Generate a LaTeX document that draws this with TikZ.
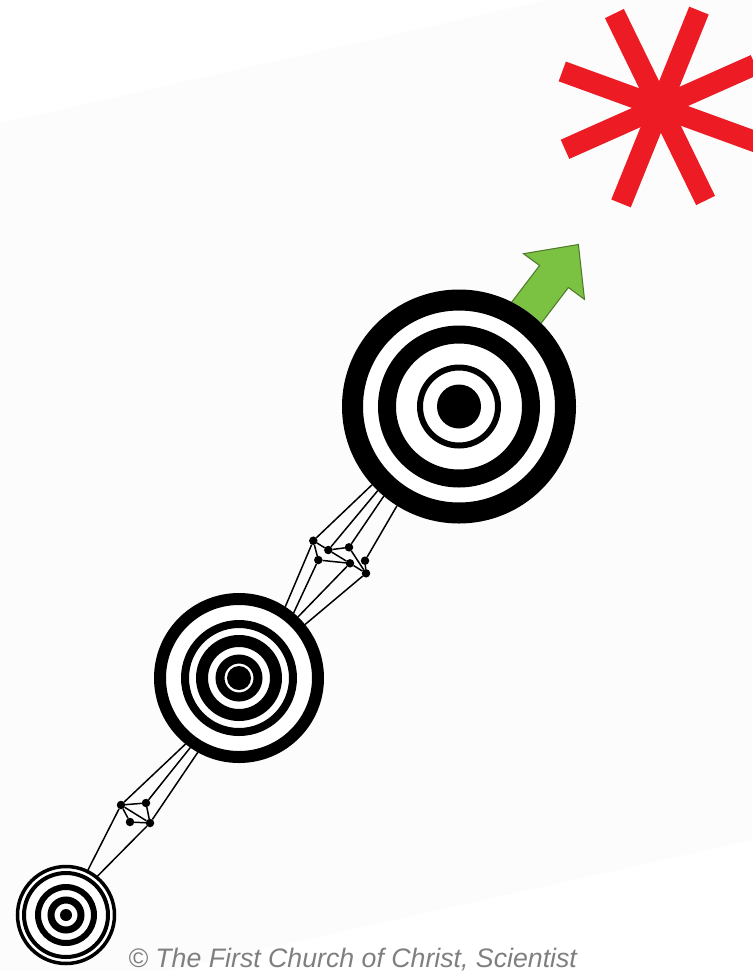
\documentclass[tikz,border=0pt]{standalone}
\usepackage{fontspec}
\setmainfont{Liberation Sans}
\usetikzlibrary{calc}
\definecolor{cred}{HTML}{ED1C24}
\definecolor{cgreen}{HTML}{7CC242}
\definecolor{cdkgreen}{HTML}{4E7A2C}
\definecolor{cgrey}{HTML}{7F7F7F}
\definecolor{cshade}{HTML}{FCFCFC}
\newcommand{\pxu}{0.02cm}
\tikzset{
  every picture/.style={x=0.02cm, y=-0.02cm},
  target/.style={circle, fill=white, inner sep=0pt, outer sep=0pt, minimum size=#1*2*\pxu},
  ring/.style={draw=black, line width=#1*\pxu},
  dot/.style={circle, fill=black, inner sep=0pt, outer sep=0pt, minimum size=8.5*\pxu},
  link/.style={draw=black, line width=0.85pt},
  note/.style={font=\itshape\fontsize{15.2}{18}\selectfont, text=cgrey, inner sep=0pt},
}

\begin{document}
\begin{tikzpicture}
  \useasboundingbox (0,0) rectangle (752,971);
  \fill[cshade] (0,123) -- (547,0) -- (752,0) -- (752,840) -- (166,971) -- (0,971) -- cycle;
  % green arrow, tail hidden under the big target
  \draw[fill=cgreen, draw=cdkgreen, line width=0.6pt, line join=miter]
    (503,313.5) -- (539.6,265.5) -- (523.5,253.7) -- (578.4,244.5)
    -- (584.5,299.4) -- (568.4,287.5) -- (531.8,335.5) -- cycle;
  % targets
  \node[target=117] (big) at (459,406.5) {};
  \foreach \r/\w in {106.5/21, 72/18, 39/6}
    \draw[ring=\w] (big.center) circle[radius=\r];
  \fill (big.center) circle[radius=22];
  \node[target=85] (mid) at (239,678) {};
  \foreach \r/\w in {79/12, 54/8, 37/12, 19/9}
    \draw[ring=\w] (mid.center) circle[radius=\r];
  \fill (mid.center) circle[radius=12];
  \node[target=50] (small) at (66,915) {};
  \foreach \r/\w in {48.5/3.5, 42/4, 28/6, 15/7}
    \draw[ring=\w] (small.center) circle[radius=\r];
  \fill (small.center) circle[radius=6];
  % upper little network
  \foreach \n/\x/\y in {b1/313.3/540.7, b2/328.3/550, b3/349/547.3, b4/318.3/560,
                        b5/350/563.3, b6/365/560.7, b7/366/573.3}
    \node[dot] (\n) at (\x,\y) {};
  \foreach \a/\b in {b1/b2, b1/b4, b2/b3, b2/b5, b4/b5, b5/b7, b3/b7, b6/b7}
    \draw[link] (\a) -- (\b);
  \foreach \n/\t in {b1/-138, b2/-134, b3/-130, b6/-122}
    \draw[link] (\n) -- (big.\t);
  \foreach \n/\t in {b1/57, b4/50, b5/46, b7/39}
    \draw[link] (\n) -- (mid.\t);
  % lower little network
  \foreach \n/\x/\y in {a1/121/805, a2/146/803, a3/130/822, a4/150/823}
    \node[dot] (\n) at (\x,\y) {};
  \foreach \a/\b in {a1/a2, a1/a3, a1/a4, a2/a4, a3/a4}
    \draw[link] (\a) -- (\b);
  \foreach \n/\t in {a1/-129, a2/-125, a4/-119}
    \draw[link] (\n) -- (mid.\t);
  \foreach \n/\t in {a1/64, a4/51}
    \draw[link] (\n) -- (small.\t);
  % red asterisk
  \coordinate (star) at (660,107);
  \foreach \a in {-24,-68,-116,-160}
    \draw[cred, line width=21*\pxu] ($(star)+(\a:104)$) -- ($(star)+(\a+180:104)$);
  \node[note, anchor=base west] (credit) at (128,967) {\textcopyright{} The First Church of Christ, Scientist};
\end{tikzpicture}
\end{document}
